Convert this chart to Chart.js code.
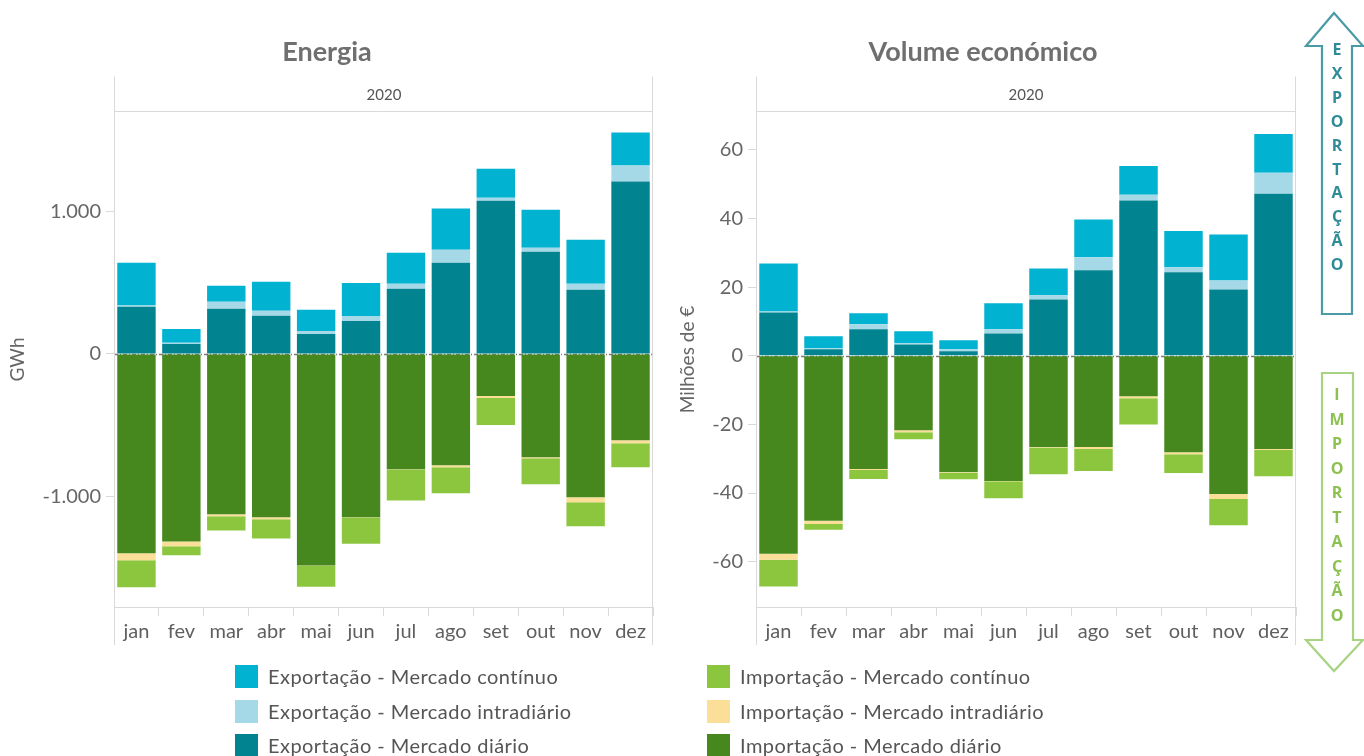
<!DOCTYPE html>
<html lang="pt">
<head>
<meta charset="utf-8">
<title>Energia e volume económico 2020</title>
<script src="https://cdn.jsdelivr.net/npm/chart.js@4.4.1/dist/chart.umd.min.js"></script>
<style>
  html, body { margin: 0; padding: 0; background: #fff; }
  body { width: 1364px; height: 756px; position: relative; overflow: hidden; font-family: Lato, "Open Sans", sans-serif; color: #555; }
  canvas { position: absolute; top: 0; }
  #cEnergy { left: 0; }
  #cMoney { left: 670px; }
  .title { position: absolute; top: 34px; font-size: 27px; font-weight: bold; color: #6f6f6f; transform: translateX(-50%); white-space: nowrap; }
  .year { position: absolute; top: 85px; font-size: 15px; color: #555; transform: translateX(-50%); }
  .legend { position: absolute; font-size: 20px; letter-spacing: 0.45px; color: #555; white-space: nowrap; }
  .legend .row { position: absolute; left: 0; height: 23px; line-height: 23px; }
  .legend .sw { position: absolute; left: 0; top: 0; width: 23px; height: 23px; }
  .legend .tx { position: absolute; left: 33px; top: 0; }
  .letters { position: absolute; left: 1327px; width: 20px; text-align: center; font-weight: bold; font-size: 16px; font-family: "Open Sans", Lato, sans-serif; }
  .letters span { display: block; position: absolute; left: 0; width: 20px; }
  svg { position: absolute; left: 0; top: 0; }
</style>
</head>
<body>
<canvas id="cEnergy" width="660" height="660"></canvas>
<canvas id="cMoney" width="630" height="660"></canvas>

<div class="title" style="left:327px">Energia</div>
<div class="title" style="left:983px">Volume económico</div>
<div class="year" style="left:384px">2020</div>
<div class="year" style="left:1026px">2020</div>

<svg width="1364" height="756">
  <polygon points="1334,13 1363,46 1352,46 1352,314 1322,314 1322,46 1306,46" fill="#fff" stroke="#4a9ba5" stroke-width="2.2" stroke-linejoin="miter"/>
  <polygon points="1322,373 1353,373 1353,640 1363,640 1334,671 1306,640 1322,640" fill="#fff" stroke="#a8d383" stroke-width="2.2" stroke-linejoin="miter"/>
</svg>
<div class="letters" id="lettersExp" style="color:#2f8c96"></div>
<div class="letters" id="lettersImp" style="color:#8cc152"></div>

<div class="legend" id="legend"></div>

<script>
// Months of 2020
const months = ['jan', 'fev', 'mar', 'abr', 'mai', 'jun', 'jul', 'ago', 'set', 'out', 'nov', 'dez'];

// Energia (GWh) — exportação (positiva)
const expDiarioGWh = [331, 70, 317, 268, 141, 232, 458, 641, 1077, 718, 451, 1211];
const expIntraGWh  = [9, 9, 49, 35, 21, 35, 35, 92, 21, 28, 42, 113];
const expContGWh   = [301, 96, 113, 204, 148, 232, 218, 289, 204, 268, 310, 232];
// Energia (GWh) — importação (negativa)
const impDiarioGWh = [-1401, -1317, -1127, -1148, -1486, -1148, -810, -782, -296, -725, -1007, -606];
const impIntraGWh  = [-49, -35, -14, -14, -2, -2, -2, -14, -14, -7, -35, -21];
const impContGWh   = [-190, -63, -99, -134, -148, -183, -218, -183, -190, -183, -169, -169];

// Volume económico (milhões de €) — exportação
const expDiarioEUR = [12.6, 1.9, 7.7, 3.3, 1.3, 6.5, 16.4, 24.9, 45.2, 24.3, 19.3, 47.2];
const expIntraEUR  = [0.3, 0.3, 1.45, 0.3, 0.6, 1.2, 1.2, 3.8, 1.7, 1.5, 2.6, 6.1];
const expContEUR   = [14.0, 3.5, 3.2, 3.5, 2.6, 7.6, 7.8, 11.0, 8.4, 10.5, 13.4, 11.3];
// Volume económico (milhões de €) — importação
const impDiarioEUR = [-57.7, -48.1, -33.0, -21.7, -33.9, -36.5, -26.6, -26.6, -11.8, -28.1, -40.3, -27.2];
const impIntraEUR  = [-1.7, -0.9, -0.3, -0.6, -0.1, -0.1, -0.1, -0.6, -0.6, -0.6, -1.45, -0.3];
const impContEUR   = [-7.8, -1.7, -2.6, -2.0, -2.0, -4.9, -7.8, -6.4, -7.6, -5.5, -7.6, -7.6];

// Y-axis tick values
const energyTicks = [-1000, 0, 1000];
const moneyTicks = [-60, -40, -20, 0, 20, 40, 60];

// Series names and colours
const seriesNames = {
  expCont: 'Exportação - Mercado contínuo',
  expIntra: 'Exportação - Mercado intradiário',
  expDiario: 'Exportação - Mercado diário',
  impCont: 'Importação - Mercado contínuo',
  impIntra: 'Importação - Mercado intradiário',
  impDiario: 'Importação - Mercado diário'
};
const colors = {
  expCont: '#02b2d1',
  expIntra: '#a6d9e7',
  expDiario: '#028390',
  impCont: '#8cc63f',
  impIntra: '#fbdf99',
  impDiario: '#46881e'
};

const LINE = '#d9d9d9';
const FONT = 'Lato, "Open Sans", sans-serif';

function fmtPt(v) {
  const s = Math.abs(v).toString().replace(/\B(?=(\d{3})+(?!\d))/g, '.');
  return (v < 0 ? '-' : '') + s;
}

// Panel frame: outer verticals, header separator and the dashed zero line
const panelFrame = {
  id: 'panelFrame',
  beforeDatasetsDraw(chart) {
    const { ctx, chartArea } = chart;
    const y0 = Math.round(chart.scales.y.getPixelForValue(0)) + 0.5;
    ctx.save();
    ctx.strokeStyle = '#7a7a7a';
    ctx.lineWidth = 1.5;
    ctx.setLineDash([4, 2, 1, 2]);
    ctx.beginPath();
    ctx.moveTo(chartArea.left, y0);
    ctx.lineTo(chartArea.right, y0);
    ctx.stroke();
    ctx.restore();
  },
  afterDraw(chart) {
    const { ctx, chartArea } = chart;
    const l = Math.round(chartArea.left) + 0.5;
    const r = Math.round(chartArea.right) - 0.5;
    const t = Math.round(chartArea.top) - 0.5;
    const b = Math.round(chartArea.bottom);
    ctx.save();
    ctx.strokeStyle = LINE;
    ctx.lineWidth = 1;
    ctx.beginPath();
    ctx.moveTo(l, t - 35); ctx.lineTo(l, b + 38);
    ctx.moveTo(r, t - 35); ctx.lineTo(r, b + 38);
    ctx.moveTo(l, t); ctx.lineTo(r, t);
    ctx.stroke();
    ctx.restore();
  }
};

function buildChart(canvasId, data, opts) {
  const order = ['expDiario', 'expIntra', 'expCont', 'impDiario', 'impIntra', 'impCont'];
  const datasets = order.map(k => ({
    label: seriesNames[k],
    data: data[k],
    backgroundColor: colors[k],
    borderWidth: 0,
    stack: 'total',
    categoryPercentage: 1.0,
    barPercentage: 0.855
  }));
  return new Chart(document.getElementById(canvasId), {
    type: 'bar',
    data: { labels: months, datasets },
    options: {
      responsive: false,
      animation: false,
      events: [],
      layout: { padding: { top: 112, right: opts.padRight, left: 0, bottom: 0 } },
      plugins: { legend: { display: false }, tooltip: { enabled: false } },
      scales: {
        x: {
          stacked: true,
          offset: true,
          grid: { display: true, offset: true, drawOnChartArea: false, tickLength: 9, color: LINE },
          border: { color: LINE },
          ticks: { color: '#5f5f5f', font: { family: FONT, size: 20 }, padding: 4, maxRotation: 0 },
          afterFit(scale) { scale.height = 53; }
        },
        y: {
          stacked: true,
          min: opts.min,
          max: opts.max,
          grid: { drawOnChartArea: false, tickLength: 8, color: LINE },
          border: { color: LINE },
          ticks: {
            color: '#666',
            font: { family: FONT, size: 20 },
            padding: 5,
            callback: v => fmtPt(v)
          },
          afterBuildTicks(scale) {
            scale.ticks = opts.ticks.map(v => ({ value: v }));
          },
          title: {
            display: true,
            text: opts.title,
            color: '#666',
            font: { family: FONT, size: 19 },
            padding: { top: 6, bottom: 0 }
          },
          afterFit(scale) { scale.width = opts.axisWidth; }
        }
      }
    },
    plugins: [panelFrame]
  });
}

buildChart('cEnergy', {
  expDiario: expDiarioGWh, expIntra: expIntraGWh, expCont: expContGWh,
  impDiario: impDiarioGWh, impIntra: impIntraGWh, impCont: impContGWh
}, { min: -1778, max: 1700, ticks: energyTicks, title: 'GWh', axisWidth: 114, padRight: 7 });

buildChart('cMoney', {
  expDiario: expDiarioEUR, expIntra: expIntraEUR, expCont: expContEUR,
  impDiario: impDiarioEUR, impIntra: impIntraEUR, impCont: impContEUR
}, { min: -73.2, max: 71.0, ticks: moneyTicks, title: 'Milhões de €', axisWidth: 86, padRight: 4 });

// Legend, two columns of three rows
const legendCols = [
  { x: 235, keys: ['expCont', 'expIntra', 'expDiario'] },
  { x: 707, keys: ['impCont', 'impIntra', 'impDiario'] }
];
const legendRowsY = [665, 700, 734];
const legend = document.getElementById('legend');
legendCols.forEach(col => {
  col.keys.forEach((k, i) => {
    const row = document.createElement('div');
    row.className = 'row';
    row.style.left = col.x + 'px';
    row.style.top = legendRowsY[i] + 'px';
    row.innerHTML = '<div class="sw" style="background:' + colors[k] + '"></div><div class="tx">' + seriesNames[k] + '</div>';
    legend.appendChild(row);
  });
});

// Vertical lettering inside the two arrows
function letters(id, word, y0, step) {
  const el = document.getElementById(id);
  [...word].forEach((ch, i) => {
    const s = document.createElement('span');
    s.textContent = ch;
    s.style.top = (y0 + i * step) + 'px';
    el.appendChild(s);
  });
}
letters('lettersExp', 'EXPORTAÇÃO', 38, 23.9);
letters('lettersImp', 'IMPORTAÇÃO', 383, 24.5);
</script>
</body>
</html>
